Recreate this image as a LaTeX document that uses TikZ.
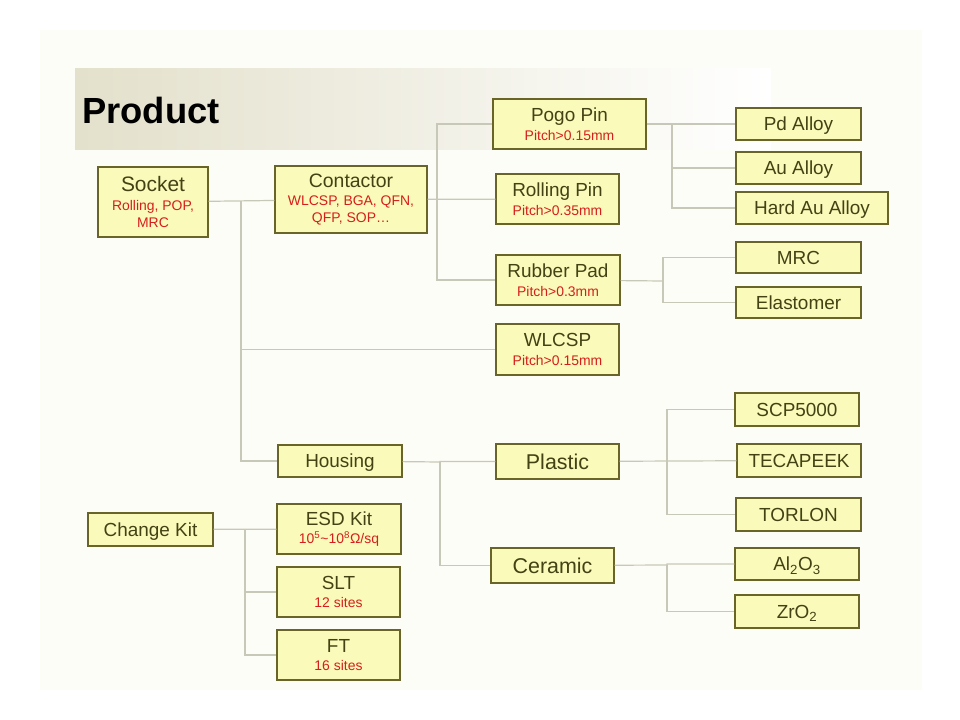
\documentclass[tikz,border=0pt]{standalone}
\usepackage{fontspec}
\setmainfont{Liberation Sans}
\usepackage{xcolor}
\definecolor{boxfill}{RGB}{250,250,186}
\definecolor{boxline}{RGB}{105,100,40}
\definecolor{boxtext}{RGB}{66,66,20}
\definecolor{subred}{RGB}{214,30,30}
\definecolor{linkgray}{RGB}{200,200,184}
\definecolor{bandtan}{RGB}{227,224,203}
\definecolor{pagetint}{RGB}{253,253,247}
\newcommand{\redfs}{\fontsize{14}{17.5}\selectfont}
\newcommand{\prodhead}[2][19]{{\color{boxtext}\fontsize{#1}{22}\selectfont #2}}

\begin{document}
\begin{tikzpicture}[x=1bp,y=-1bp,
	part/.style={rectangle,draw=boxline,fill=boxfill,line width=1.3bp,inner sep=0pt,align=center},
	leaf/.style={part,text=boxtext,font=\fontsize{19}{22}\selectfont,text height=13.6pt,text depth=0pt},
	bigleaf/.style={leaf,font=\fontsize{21.5}{24}\selectfont,text height=15.4pt},
	pair/.style={part,text=subred,font=\redfs},
	link/.style={draw=linkgray,line width=1.2bp}]
	\useasboundingbox (0,0) rectangle (960,720);
	\fill[white] (0,0) rectangle (960,720);
	\fill[pagetint] (40,30) rectangle (922,690);
	\shade[left color=bandtan,right color=white] (75,69) rectangle (771,150);
	\node (title) at (82,124) [anchor=base west,inner sep=0pt,font=\fontsize{36.5}{40}\selectfont\bfseries] {Product};

	% first level
	\node (socket) at (153,202) [pair,minimum width=110bp,minimum height=70bp] {\prodhead[21]{Socket}\\[1pt]Rolling, POP,\\MRC};
	\node (changekit) at (150.5,529.5) [leaf,minimum width=125bp,minimum height=33bp] {Change Kit};

	% second level
	\node (contactor) at (351,199.5) [pair,minimum width=152bp,minimum height=67bp] {\prodhead[19.5]{Contactor}\\[1pt]WLCSP, BGA, QFN,\\QFP, SOP…};
	\node (housing) at (340,461) [leaf,minimum width=124bp,minimum height=32bp] {Housing};
	\node (esd) at (339,529) [pair,minimum width=124bp,minimum height=50bp] {\prodhead{ESD Kit}\\[1pt]10\textsuperscript{5}\textasciitilde10\textsuperscript{8}Ω/sq};
	\node (slt) at (338.5,592) [pair,minimum width=123bp,minimum height=50bp] {\prodhead{SLT}\\[1pt]12 sites};
	\node (ft) at (338.5,655) [pair,minimum width=123bp,minimum height=50bp] {\prodhead{FT}\\[1pt]16 sites};

	% third level
	\node (pogo) at (569.5,124) [pair,minimum width=153bp,minimum height=50bp] {\prodhead{Pogo Pin}\\[1pt]Pitch>0.15mm};
	\node (rolling) at (557.5,199) [pair,minimum width=123bp,minimum height=50bp] {\prodhead{Rolling Pin}\\[1pt]Pitch>0.35mm};
	\node (rubber) at (558,280) [pair,minimum width=124bp,minimum height=50bp] {\prodhead{Rubber Pad}\\[1pt]Pitch>0.3mm};
	\node (wlcsp) at (557.5,349.5) [pair,minimum width=123bp,minimum height=51bp] {\prodhead{WLCSP}\\[1pt]Pitch>0.15mm};
	\node (plastic) at (557.5,461.5) [bigleaf,minimum width=123bp,minimum height=35bp] {Plastic};
	\node (ceramic) at (552.5,565.5) [bigleaf,minimum width=123bp,minimum height=35bp] {Ceramic};

	% materials
	\node (pdalloy) at (798.5,124) [leaf,minimum width=125bp,minimum height=32bp] {Pd Alloy};
	\node (aualloy) at (798.5,168) [leaf,minimum width=125bp,minimum height=32bp] {Au Alloy};
	\node (hardau) at (812,208) [leaf,minimum width=152bp,minimum height=32bp] {Hard Au Alloy};
	\node (mrc) at (798.5,257.5) [leaf,minimum width=125bp,minimum height=31bp] {MRC};
	\node (elastomer) at (798.5,302.5) [leaf,minimum width=125bp,minimum height=31bp] {Elastomer};
	\node (scp) at (797,409.5) [leaf,minimum width=124bp,minimum height=33bp] {SCP5000};
	\node (tecapeek) at (799,460.5) [leaf,minimum width=124bp,minimum height=33bp] {TECAPEEK};
	\node (torlon) at (798.5,514.5) [leaf,minimum width=125bp,minimum height=33bp] {TORLON};
	\node (alo) at (797,564) [leaf,minimum width=124bp,minimum height=32bp] {Al\textsubscript{2}O\textsubscript{3}};
	\node (zro) at (797,611.5) [leaf,minimum width=124bp,minimum height=33bp] {ZrO\textsubscript{2}};

	% bus points
	\coordinate (sbus) at (241,201);
	\coordinate (cbus) at (437,200);
	\coordinate (pbus) at (672,124);
	\coordinate (rbus) at (663,281);
	\coordinate (hbus) at (440,462);
	\coordinate (plbus) at (667,461);
	\coordinate (cebus) at (667,565);
	\coordinate (kbus) at (245,529.5);

	\draw [link] (socket) -- (contactor);
	\draw [link] (sbus) |- (wlcsp);
	\draw [link] (sbus) |- (housing);
	\draw [link] (contactor) -- (rolling);
	\draw [link] (cbus) |- (pogo);
	\draw [link] (cbus) |- (rubber);
	\draw [link] (pogo) -- (pbus) |- (pdalloy);
	\draw [link] (pbus) |- (aualloy);
	\draw [link] (pbus) |- (hardau);
	\draw [link] (rubber) -- (rbus);
	\draw [link] (rbus) |- (mrc);
	\draw [link] (rbus) |- (elastomer);
	\draw [link] (housing) -- (hbus) |- (plastic);
	\draw [link] (hbus) |- (ceramic);
	\draw [link] (plastic) -- (tecapeek);
	\draw [link] (plbus) |- (scp);
	\draw [link] (plbus) |- (torlon);
	\draw [link] (ceramic) -- (cebus) |- (alo);
	\draw [link] (cebus) |- (zro);
	\draw [link] (changekit) -- (esd);
	\draw [link] (kbus) |- (slt);
	\draw [link] (kbus) |- (ft);
\end{tikzpicture}
\end{document}
